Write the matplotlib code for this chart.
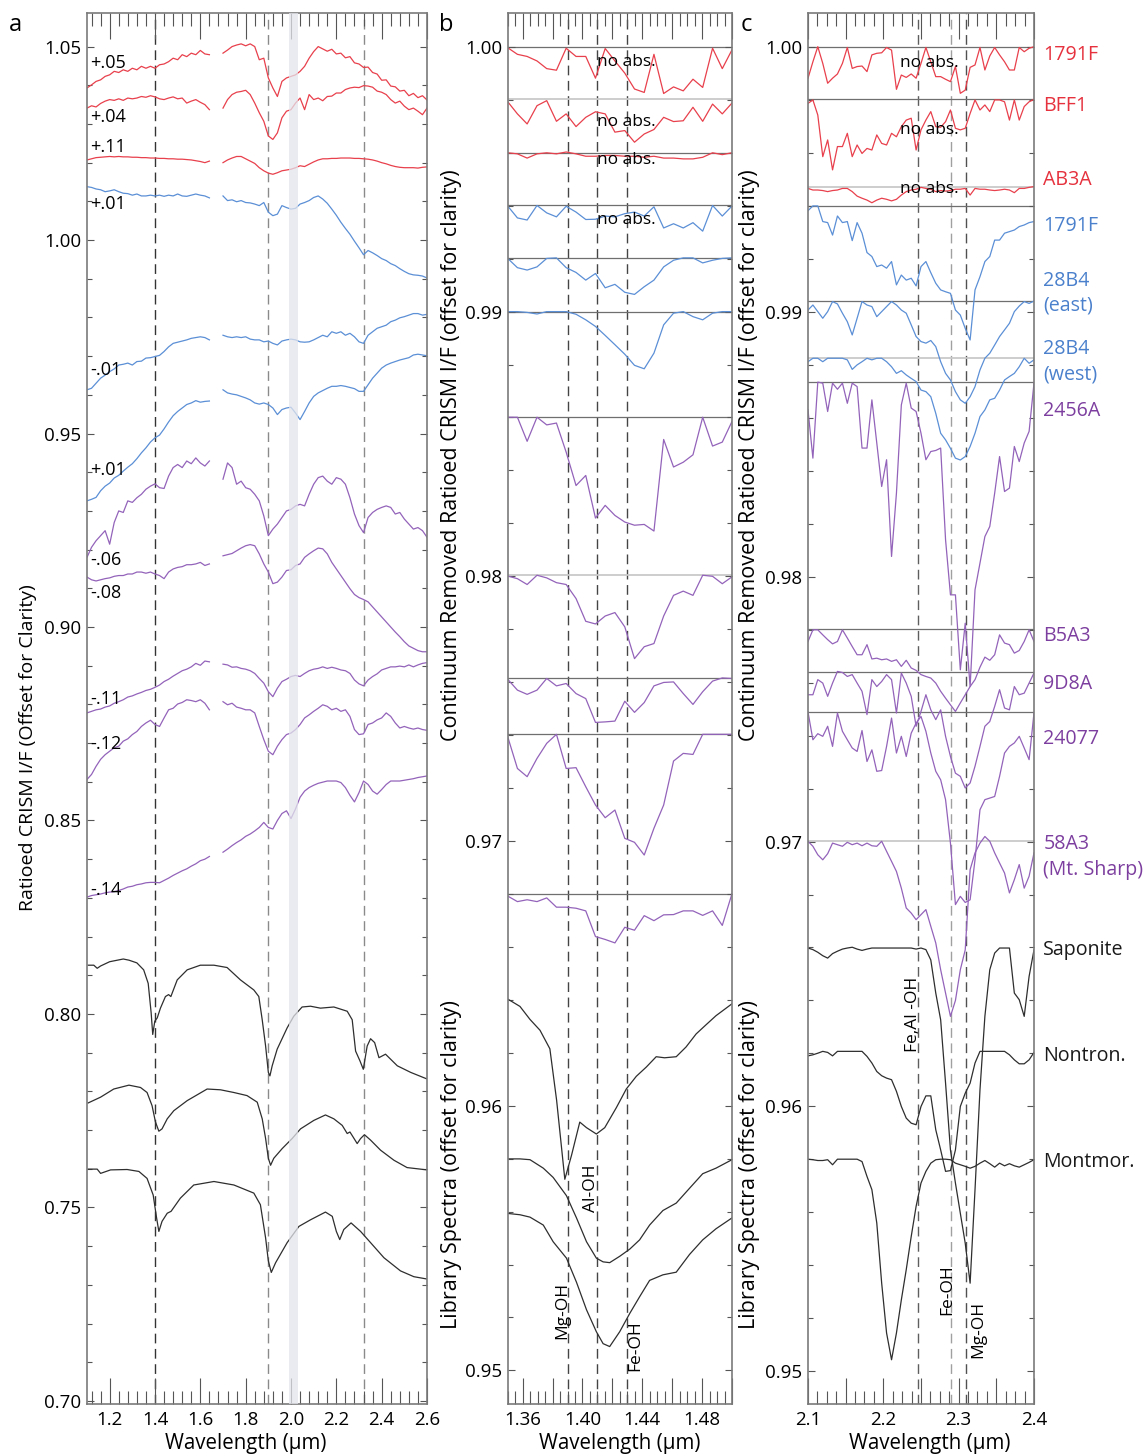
import matplotlib.pyplot as plt
from matplotlib.ticker import MultipleLocator, FuncFormatter

plt.rcParams['font.family'] = ['Open Sans', 'DejaVu Sans']

# ---------------- panel a: ratioed CRISM spectra, 1.1-2.6 um ----------------
# first 28 channels run up to 1.64 um, then a gap up to 1.70 um
wl_a = [1.10, 1.12, 1.14, 1.16, 1.18, 1.20, 1.22, 1.24, 1.26, 1.28,
        1.30, 1.32, 1.34, 1.36, 1.38, 1.40, 1.42, 1.44, 1.46, 1.48,
        1.50, 1.52, 1.54, 1.56, 1.58, 1.60, 1.62, 1.64,
        1.70, 1.72, 1.74, 1.76, 1.78, 1.80, 1.82, 1.84, 1.86, 1.88,
        1.90, 1.92, 1.94, 1.96, 1.98, 2.00, 2.02, 2.04, 2.06, 2.08,
        2.10, 2.12, 2.14, 2.16, 2.18, 2.20, 2.22, 2.24, 2.26, 2.28,
        2.30, 2.32, 2.34, 2.36, 2.38, 2.40, 2.42, 2.44, 2.46, 2.48,
        2.50, 2.52, 2.54, 2.56, 2.58, 2.60]
GAP = 28

a_1791F_r = [1.0393, 1.0401, 1.0410, 1.0414, 1.0423, 1.0427, 1.0436, 1.0433, 1.0440, 1.0436,
             1.0444, 1.0440, 1.0449, 1.0444, 1.0449, 1.0444, 1.0453, 1.0455, 1.0461, 1.0470,
             1.0466, 1.0479, 1.0474, 1.0483, 1.0479, 1.0490, 1.0481, 1.0479,
             1.0483, 1.0491, 1.0500, 1.0504, 1.0507, 1.0502, 1.0507, 1.0500, 1.0466, 1.0470,
             1.0419, 1.0393, 1.0371, 1.0410, 1.0419, 1.0423, 1.0427, 1.0436, 1.0449, 1.0470,
             1.0487, 1.0500, 1.0494, 1.0488, 1.0493, 1.0481, 1.0483, 1.0471, 1.0474, 1.0458,
             1.0455, 1.0446, 1.0447, 1.0433, 1.0429, 1.0413, 1.0414, 1.0398, 1.0396, 1.0385,
             1.0387, 1.0373, 1.0379, 1.0368, 1.0373, 1.0362]
a_BFF1 = [1.0341, 1.0347, 1.0344, 1.0353, 1.0359, 1.0363, 1.0361, 1.0365, 1.0361, 1.0367,
          1.0365, 1.0367, 1.0371, 1.0369, 1.0373, 1.0370, 1.0365, 1.0363, 1.0367, 1.0370,
          1.0365, 1.0367, 1.0354, 1.0359, 1.0363, 1.0356, 1.0350, 1.0337,
          1.0341, 1.0363, 1.0376, 1.0382, 1.0384, 1.0387, 1.0376, 1.0354, 1.0329, 1.0307,
          1.0269, 1.0260, 1.0277, 1.0316, 1.0333, 1.0337, 1.0354, 1.0367, 1.0337, 1.0376,
          1.0363, 1.0367, 1.0360, 1.0371, 1.0372, 1.0380, 1.0380, 1.0389, 1.0393, 1.0395,
          1.0394, 1.0399, 1.0398, 1.0395, 1.0385, 1.0382, 1.0376, 1.0363, 1.0354, 1.0359,
          1.0346, 1.0337, 1.0341, 1.0333, 1.0324, 1.0341]
a_AB3A = [1.0207, 1.0210, 1.0213, 1.0214, 1.0215, 1.0216, 1.0215, 1.0216, 1.0215, 1.0215,
          1.0214, 1.0214, 1.0213, 1.0213, 1.0212, 1.0212, 1.0211, 1.0211, 1.0210, 1.0210,
          1.0209, 1.0209, 1.0208, 1.0207, 1.0205, 1.0203, 1.0200, 1.0204,
          1.0200, 1.0207, 1.0212, 1.0216, 1.0216, 1.0210, 1.0204, 1.0198, 1.0187, 1.0179,
          1.0173, 1.0170, 1.0174, 1.0179, 1.0181, 1.0183, 1.0187, 1.0192, 1.0190, 1.0196,
          1.0202, 1.0207, 1.0210, 1.0210, 1.0211, 1.0211, 1.0212, 1.0212, 1.0212, 1.0211,
          1.0211, 1.0210, 1.0209, 1.0207, 1.0204, 1.0200, 1.0197, 1.0193, 1.0190, 1.0188,
          1.0187, 1.0187, 1.0187, 1.0186, 1.0188, 1.0189]
a_1791F_b = [1.0138, 1.0136, 1.0132, 1.0130, 1.0125, 1.0127, 1.0130, 1.0125, 1.0121, 1.0120,
             1.0116, 1.0119, 1.0114, 1.0114, 1.0116, 1.0114, 1.0116, 1.0113, 1.0116, 1.0114,
             1.0119, 1.0114, 1.0113, 1.0116, 1.0119, 1.0116, 1.0114, 1.0109,
             1.0114, 1.0102, 1.0104, 1.0099, 1.0102, 1.0097, 1.0096, 1.0093, 1.0089, 1.0097,
             1.0072, 1.0063, 1.0067, 1.0089, 1.0084, 1.0080, 1.0082, 1.0093, 1.0097, 1.0102,
             1.0110, 1.0114, 1.0106, 1.0095, 1.0080, 1.0064, 1.0046, 1.0030, 1.0015, 0.9997,
             0.9980, 0.9962, 0.9973, 0.9967, 0.9960, 0.9952, 0.9947, 0.9939, 0.9934, 0.9926,
             0.9919, 0.9913, 0.9910, 0.9909, 0.9907, 0.9902]
a_28B4_east = [0.9613, 0.9617, 0.9630, 0.9643, 0.9651, 0.9660, 0.9667, 0.9677, 0.9679, 0.9682,
               0.9677, 0.9686, 0.9687, 0.9695, 0.9696, 0.9699, 0.9702, 0.9712, 0.9724, 0.9733,
               0.9736, 0.9739, 0.9742, 0.9746, 0.9748, 0.9750, 0.9748, 0.9742,
               0.9754, 0.9750, 0.9748, 0.9750, 0.9748, 0.9750, 0.9744, 0.9742, 0.9742, 0.9737,
               0.9739, 0.9733, 0.9729, 0.9739, 0.9742, 0.9744, 0.9742, 0.9737, 0.9736, 0.9737,
               0.9742, 0.9748, 0.9754, 0.9750, 0.9763, 0.9759, 0.9763, 0.9754, 0.9759, 0.9750,
               0.9737, 0.9733, 0.9754, 0.9763, 0.9772, 0.9776, 0.9780, 0.9789, 0.9793, 0.9799,
               0.9802, 0.9806, 0.9810, 0.9810, 0.9806, 0.9808]
a_28B4_west = [0.9326, 0.9330, 0.9335, 0.9352, 0.9364, 0.9372, 0.9385, 0.9392, 0.9403, 0.9413,
               0.9422, 0.9435, 0.9450, 0.9463, 0.9478, 0.9489, 0.9496, 0.9512, 0.9530, 0.9546,
               0.9557, 0.9566, 0.9575, 0.9579, 0.9585, 0.9581, 0.9583, 0.9584,
               0.9613, 0.9605, 0.9602, 0.9600, 0.9596, 0.9592, 0.9587, 0.9579, 0.9576, 0.9579,
               0.9575, 0.9566, 0.9549, 0.9562, 0.9566, 0.9568, 0.9553, 0.9536, 0.9557, 0.9579,
               0.9596, 0.9605, 0.9611, 0.9617, 0.9622, 0.9622, 0.9624, 0.9622, 0.9619, 0.9616,
               0.9609, 0.9609, 0.9626, 0.9643, 0.9656, 0.9669, 0.9677, 0.9682, 0.9686, 0.9690,
               0.9693, 0.9696, 0.9703, 0.9705, 0.9703, 0.9701]
a_2456A = [0.9180, 0.9206, 0.9223, 0.9236, 0.9249, 0.9214, 0.9270, 0.9300, 0.9296, 0.9326,
           0.9322, 0.9334, 0.9343, 0.9356, 0.9364, 0.9370, 0.9360, 0.9358, 0.9390, 0.9412,
           0.9420, 0.9412, 0.9429, 0.9422, 0.9437, 0.9424, 0.9416, 0.9429,
           0.9382, 0.9424, 0.9412, 0.9369, 0.9377, 0.9360, 0.9356, 0.9343, 0.9326, 0.9287,
           0.9236, 0.9253, 0.9266, 0.9283, 0.9300, 0.9304, 0.9313, 0.9317, 0.9313, 0.9343,
           0.9369, 0.9386, 0.9390, 0.9377, 0.9369, 0.9386, 0.9382, 0.9369, 0.9334, 0.9292,
           0.9262, 0.9244, 0.9283, 0.9296, 0.9304, 0.9309, 0.9313, 0.9309, 0.9292, 0.9296,
           0.9279, 0.9266, 0.9253, 0.9257, 0.9249, 0.9232]
a_B5A3 = [0.9129, 0.9122, 0.9119, 0.9122, 0.9125, 0.9127, 0.9131, 0.9133, 0.9133, 0.9137,
          0.9137, 0.9142, 0.9142, 0.9139, 0.9142, 0.9137, 0.9133, 0.9125, 0.9142, 0.9150,
          0.9154, 0.9156, 0.9161, 0.9161, 0.9163, 0.9167, 0.9159, 0.9163,
          0.9184, 0.9187, 0.9190, 0.9197, 0.9204, 0.9210, 0.9213, 0.9210, 0.9189, 0.9163,
          0.9142, 0.9112, 0.9116, 0.9129, 0.9146, 0.9148, 0.9159, 0.9163, 0.9180, 0.9189,
          0.9197, 0.9204, 0.9202, 0.9189, 0.9167, 0.9150, 0.9133, 0.9116, 0.9099, 0.9084,
          0.9076, 0.9071, 0.9065, 0.9052, 0.9039, 0.9026, 0.9013, 0.9000, 0.8987, 0.8975,
          0.8962, 0.8951, 0.8945, 0.8939, 0.8936, 0.8936]
a_9D8A = [0.8778, 0.8782, 0.8786, 0.8788, 0.8793, 0.8796, 0.8803, 0.8807, 0.8812, 0.8819,
          0.8822, 0.8827, 0.8831, 0.8836, 0.8839, 0.8844, 0.8850, 0.8859, 0.8865, 0.8873,
          0.8880, 0.8887, 0.8891, 0.8897, 0.8906, 0.8901, 0.8912, 0.8910,
          0.8904, 0.8902, 0.8896, 0.8897, 0.8893, 0.8891, 0.8887, 0.8880, 0.8867, 0.8855,
          0.8833, 0.8820, 0.8842, 0.8859, 0.8865, 0.8872, 0.8875, 0.8872, 0.8880, 0.8887,
          0.8891, 0.8893, 0.8897, 0.8893, 0.8896, 0.8893, 0.8889, 0.8887, 0.8880, 0.8863,
          0.8853, 0.8848, 0.8863, 0.8872, 0.8879, 0.8889, 0.8893, 0.8897, 0.8897, 0.8899,
          0.8897, 0.8902, 0.8897, 0.8902, 0.8906, 0.8908]
a_24077 = [0.8606, 0.8619, 0.8640, 0.8658, 0.8670, 0.8679, 0.8688, 0.8692, 0.8705, 0.8711,
           0.8722, 0.8730, 0.8743, 0.8752, 0.8759, 0.8748, 0.8743, 0.8765, 0.8786, 0.8790,
           0.8801, 0.8805, 0.8812, 0.8810, 0.8807, 0.8812, 0.8803, 0.8786,
           0.8807, 0.8799, 0.8803, 0.8793, 0.8790, 0.8786, 0.8786, 0.8778, 0.8743, 0.8709,
           0.8679, 0.8670, 0.8692, 0.8709, 0.8722, 0.8726, 0.8735, 0.8748, 0.8765, 0.8773,
           0.8782, 0.8790, 0.8799, 0.8795, 0.8786, 0.8790, 0.8782, 0.8786, 0.8769, 0.8735,
           0.8722, 0.8724, 0.8748, 0.8752, 0.8760, 0.8765, 0.8778, 0.8769, 0.8752, 0.8739,
           0.8743, 0.8739, 0.8736, 0.8739, 0.8735, 0.8733]
a_58A3 = [0.8302, 0.8306, 0.8308, 0.8310, 0.8313, 0.8315, 0.8316, 0.8319, 0.8323, 0.8328,
          0.8330, 0.8334, 0.8336, 0.8339, 0.8340, 0.8340, 0.8339, 0.8345, 0.8351, 0.8358,
          0.8364, 0.8370, 0.8375, 0.8382, 0.8388, 0.8396, 0.8400, 0.8407,
          0.8418, 0.8426, 0.8435, 0.8443, 0.8450, 0.8459, 0.8465, 0.8473, 0.8482, 0.8495,
          0.8482, 0.8478, 0.8500, 0.8518, 0.8525, 0.8505, 0.8530, 0.8560, 0.8576, 0.8585,
          0.8591, 0.8596, 0.8599, 0.8602, 0.8602, 0.8602, 0.8598, 0.8585, 0.8565, 0.8548,
          0.8572, 0.8602, 0.8593, 0.8576, 0.8568, 0.8580, 0.8593, 0.8602, 0.8602, 0.8602,
          0.8604, 0.8606, 0.8608, 0.8611, 0.8613, 0.8615]

# library spectra for panel a
wl_sap_a = [1.105, 1.13, 1.145, 1.16, 1.20, 1.26, 1.285, 1.32, 1.35, 1.37, 1.383, 1.39,
            1.399, 1.41, 1.424, 1.446, 1.46, 1.47, 1.498, 1.542, 1.60, 1.66, 1.718,
            1.777, 1.836, 1.858, 1.873, 1.888, 1.90, 1.907, 1.917, 1.939, 1.983, 2.012,
            2.049, 2.086, 2.13, 2.189, 2.248, 2.27, 2.285, 2.304, 2.319, 2.336, 2.351,
            2.369, 2.388, 2.417, 2.469, 2.528, 2.60]
sap_a = [0.8126, 0.8126, 0.8118, 0.8124, 0.8135, 0.8142, 0.8139, 0.8132, 0.8114, 0.8079,
         0.8003, 0.7947, 0.7981, 0.7990, 0.8015, 0.8045, 0.8050, 0.8045, 0.8088, 0.8114,
         0.8126, 0.8126, 0.8120, 0.8088, 0.8062, 0.8045, 0.7985, 0.7917, 0.7849, 0.7840,
         0.7866, 0.7909, 0.7964, 0.7994, 0.8018, 0.8020, 0.8015, 0.8018, 0.8007, 0.7985,
         0.7904, 0.7879, 0.7857, 0.7917, 0.7936, 0.7926, 0.7887, 0.7896, 0.7866, 0.7849,
         0.7832]
wl_non_a = [1.105, 1.16, 1.218, 1.285, 1.336, 1.365, 1.387, 1.402, 1.417, 1.431, 1.454,
            1.483, 1.542, 1.63, 1.689, 1.748, 1.806, 1.851, 1.873, 1.888, 1.90, 1.91,
            1.924, 1.961, 2.005, 2.042, 2.101, 2.152, 2.189, 2.226, 2.248, 2.26, 2.274,
            2.292, 2.307, 2.324, 2.351, 2.395, 2.454, 2.512, 2.60]
non_a = [0.7770, 0.7785, 0.7806, 0.7816, 0.7810, 0.7797, 0.7763, 0.7721, 0.7697, 0.7703,
         0.7729, 0.7750, 0.7776, 0.7806, 0.7804, 0.7797, 0.7789, 0.7772, 0.7729, 0.7678,
         0.7627, 0.7609, 0.7627, 0.7652, 0.7678, 0.7703, 0.7725, 0.7739, 0.7729, 0.7712,
         0.7691, 0.7695, 0.7682, 0.7665, 0.7678, 0.7688, 0.7674, 0.7648, 0.7622, 0.7603,
         0.7597]
wl_mon_a = [1.105, 1.145, 1.16, 1.204, 1.277, 1.329, 1.365, 1.392, 1.407, 1.417, 1.431,
            1.454, 1.471, 1.512, 1.571, 1.66, 1.748, 1.836, 1.865, 1.888, 1.90, 1.913,
            1.932, 1.983, 2.035, 2.086, 2.152, 2.182, 2.20, 2.215, 2.233, 2.265, 2.307,
            2.351, 2.41, 2.483, 2.542, 2.60]
mon_a = [0.7599, 0.7599, 0.7588, 0.7597, 0.7598, 0.7593, 0.7575, 0.7532, 0.7473, 0.7438,
         0.7464, 0.7485, 0.7490, 0.7524, 0.7558, 0.7567, 0.7558, 0.7537, 0.7507, 0.7421,
         0.7362, 0.7332, 0.7357, 0.7409, 0.7451, 0.7468, 0.7488, 0.7477, 0.7438, 0.7417,
         0.7443, 0.7460, 0.7438, 0.7409, 0.7370, 0.7336, 0.7321, 0.7315]

# ---------------- panel b: continuum removed, 1.35-1.50 um ----------------
wl_b = [1.3500, 1.3565, 1.3630, 1.3696, 1.3761, 1.3826, 1.3891, 1.3957, 1.4022, 1.4087,
        1.4152, 1.4217, 1.4283, 1.4348, 1.4413, 1.4478, 1.4543, 1.4609, 1.4674, 1.4739,
        1.4804, 1.4870, 1.4935, 1.5000]
b_1791F_r = [0.99997, 0.99972, 0.99964, 0.99947, 0.99918, 0.99912, 0.99995, 0.99964, 0.99964, 0.99882,
             0.99994, 0.99947, 0.99901, 0.99841, 0.99828, 0.99972, 0.99824, 0.99849, 0.99834, 0.99878,
             0.99847, 0.99995, 0.99918, 0.99989]
b_BFF1 = [0.99793, 0.99747, 0.99709, 0.99778, 0.99797, 0.99719, 0.99747, 0.99699, 0.99734, 0.99755,
          0.99747, 0.99678, 0.99684, 0.99640, 0.99671, 0.99688, 0.99734, 0.99718, 0.99721, 0.99772,
          0.99719, 0.99784, 0.99747, 0.99788]
b_AB3A = [0.99600, 0.99596, 0.99580, 0.99596, 0.99600, 0.99596, 0.99603, 0.99596, 0.99587, 0.99587,
          0.99590, 0.99590, 0.99587, 0.99587, 0.99583, 0.99587, 0.99580, 0.99580, 0.99577, 0.99577,
          0.99583, 0.99600, 0.99593, 0.99600]
b_1791F_b = [0.99399, 0.99354, 0.99346, 0.99401, 0.99373, 0.99358, 0.99398, 0.99376, 0.99348, 0.99349,
             0.99361, 0.99358, 0.99370, 0.99376, 0.99361, 0.99396, 0.99316, 0.99332, 0.99316, 0.99336,
             0.99304, 0.99401, 0.99361, 0.99399]
b_28B4_east = [0.99201, 0.99166, 0.99157, 0.99169, 0.99201, 0.99203, 0.99166, 0.99148, 0.99119, 0.99144,
               0.99090, 0.99103, 0.99073, 0.99065, 0.99094, 0.99119, 0.99169, 0.99194, 0.99203, 0.99203,
               0.99184, 0.99194, 0.99201, 0.99203]
b_28B4_west = [0.99000, 0.99000, 0.98997, 0.98991, 0.99000, 0.99000, 0.99000, 0.98990, 0.98969, 0.98944,
               0.98910, 0.98875, 0.98839, 0.98797, 0.98784, 0.98843, 0.98950, 0.98994, 0.99000, 0.98981,
               0.98969, 0.98994, 0.99000, 0.99000]
b_2456A = [0.98601, 0.98601, 0.98510, 0.98601, 0.98572, 0.98579, 0.98469, 0.98343, 0.98381, 0.98220,
           0.98268, 0.98230, 0.98205, 0.98193, 0.98196, 0.98171, 0.98517, 0.98413, 0.98431, 0.98459,
           0.98601, 0.98492, 0.98507, 0.98585]
b_B5A3 = [0.98001, 0.97991, 0.97969, 0.98004, 0.97994, 0.97976, 0.97969, 0.97916, 0.97830, 0.97820,
          0.97850, 0.97863, 0.97809, 0.97689, 0.97734, 0.97746, 0.97850, 0.97928, 0.97944, 0.97928,
          0.98004, 0.98000, 0.97972, 0.97998]
b_9D8A = [0.97611, 0.97570, 0.97554, 0.97570, 0.97614, 0.97586, 0.97595, 0.97557, 0.97538, 0.97448,
          0.97450, 0.97453, 0.97528, 0.97486, 0.97523, 0.97586, 0.97599, 0.97601, 0.97557, 0.97516,
          0.97564, 0.97604, 0.97616, 0.97614]
b_24077 = [0.97394, 0.97274, 0.97243, 0.97312, 0.97369, 0.97403, 0.97274, 0.97277, 0.97205, 0.97136,
           0.97088, 0.97117, 0.97010, 0.96995, 0.96947, 0.97048, 0.97136, 0.97302, 0.97331, 0.97327,
           0.97403, 0.97403, 0.97403, 0.97403]
b_58A3 = [0.96792, 0.96771, 0.96778, 0.96771, 0.96785, 0.96750, 0.96750, 0.96746, 0.96736, 0.96639,
          0.96628, 0.96615, 0.96674, 0.96663, 0.96718, 0.96699, 0.96721, 0.96722, 0.96736, 0.96736,
          0.96719, 0.96736, 0.96681, 0.96801]
b_levels = [1.00000, 0.99803, 0.99600, 0.99401, 0.99203, 0.99000, 0.98601, 0.98004, 0.97616,
            0.97403, 0.96801]
b_level_light = [False, True, False, False, False, False, False, True, False, False, False]

wl_sap_b = [1.3500, 1.3582, 1.3649, 1.3716, 1.3782, 1.3827, 1.3882, 1.3927, 1.3982, 1.4027,
            1.4093, 1.4149, 1.4227, 1.4293, 1.4360, 1.4427, 1.4493, 1.4549, 1.4627, 1.4693,
            1.4760, 1.4827, 1.4893, 1.5000]
sap_b = [0.96403, 0.96375, 0.96326, 0.96285, 0.96215, 0.96021, 0.95722, 0.95813, 0.95938, 0.95917,
         0.95893, 0.95917, 0.95993, 0.96063, 0.96111, 0.96146, 0.96185, 0.96181, 0.96185, 0.96222,
         0.96271, 0.96306, 0.96340, 0.96385]
wl_clay_b = [1.3500, 1.3582, 1.3649, 1.3738, 1.3804, 1.3893, 1.3960, 1.4027, 1.4093, 1.4138,
             1.4182, 1.4249, 1.4316, 1.4382, 1.4449, 1.4538, 1.4627, 1.4716, 1.4804, 1.4893,
             1.5000]
non_b = [0.95799, 0.95799, 0.95796, 0.95764, 0.95729, 0.95660, 0.95576, 0.95486, 0.95424, 0.95410,
         0.95407, 0.95431, 0.95458, 0.95493, 0.95549, 0.95604, 0.95632, 0.95688, 0.95743, 0.95764,
         0.95796]
mon_b = [0.95593, 0.95588, 0.95579, 0.95549, 0.95486, 0.95424, 0.95333, 0.95229, 0.95146, 0.95101,
         0.95090, 0.95146, 0.95215, 0.95278, 0.95340, 0.95361, 0.95371, 0.95438, 0.95493, 0.95535,
         0.95576]

# ---------------- panel c: continuum removed, 2.1-2.4 um ----------------
wl_c = [2.1000, 2.1065, 2.1130, 2.1196, 2.1261, 2.1326, 2.1391, 2.1457, 2.1522, 2.1587,
        2.1652, 2.1717, 2.1783, 2.1848, 2.1913, 2.1978, 2.2043, 2.2109, 2.2174, 2.2239,
        2.2304, 2.2370, 2.2435, 2.2500, 2.2565, 2.2630, 2.2696, 2.2761, 2.2826, 2.2891,
        2.2957, 2.3022, 2.3087, 2.3152, 2.3217, 2.3283, 2.3348, 2.3413, 2.3478, 2.3543,
        2.3609, 2.3674, 2.3739, 2.3804, 2.3870, 2.3935, 2.4000]
c_1791F_r = [0.99881, 0.99943, 1.00000, 0.99937, 0.99862, 0.99881, 0.99897, 0.99937, 0.99997, 0.99918,
             0.99925, 0.99927, 0.99906, 0.99969, 0.99975, 0.99977, 0.99997, 0.99987, 0.99839, 0.99893,
             0.99884, 0.99897, 0.99881, 0.99937, 0.99997, 0.99943, 0.99887, 0.99887, 0.99877, 0.99868,
             0.99925, 0.99824, 0.99836, 0.99922, 0.99931, 0.99997, 0.99912, 0.99965, 0.99997, 0.99969,
             0.99943, 0.99912, 0.99912, 0.99997, 0.99981, 0.99994, 1.00000]
c_BFF1 = [0.99786, 0.99799, 0.99742, 0.99585, 0.99648, 0.99535, 0.99623, 0.99623, 0.99673, 0.99585,
          0.99629, 0.99597, 0.99616, 0.99610, 0.99667, 0.99635, 0.99629, 0.99673, 0.99660, 0.99698,
          0.99723, 0.99730, 0.99610, 0.99686, 0.99723, 0.99755, 0.99698, 0.99696, 0.99717, 0.99761,
          0.99692, 0.99686, 0.99692, 0.99748, 0.99799, 0.99761, 0.99780, 0.99755, 0.99799, 0.99799,
          0.99792, 0.99723, 0.99799, 0.99723, 0.99774, 0.99792, 0.99801]
c_AB3A = [0.99465, 0.99459, 0.99459, 0.99457, 0.99453, 0.99457, 0.99459, 0.99465, 0.99465, 0.99453,
          0.99436, 0.99428, 0.99421, 0.99411, 0.99421, 0.99428, 0.99424, 0.99418, 0.99424, 0.99440,
          0.99453, 0.99459, 0.99462, 0.99469, 0.99465, 0.99462, 0.99453, 0.99457, 0.99455, 0.99457,
          0.99462, 0.99462, 0.99465, 0.99440, 0.99465, 0.99462, 0.99462, 0.99459, 0.99457, 0.99459,
          0.99462, 0.99459, 0.99449, 0.99465, 0.99465, 0.99469, 0.99472]
c_1791F_b = [0.99381, 0.99399, 0.99399, 0.99340, 0.99336, 0.99289, 0.99361, 0.99336, 0.99340, 0.99268,
             0.99336, 0.99296, 0.99223, 0.99208, 0.99170, 0.99176, 0.99164, 0.99189, 0.99101, 0.99138,
             0.99119, 0.99126, 0.99097, 0.99170, 0.99189, 0.99147, 0.99107, 0.99082, 0.99075, 0.99069,
             0.99006, 0.98987, 0.98937, 0.98893, 0.99082, 0.99132, 0.99189, 0.99208, 0.99270, 0.99270,
             0.99296, 0.99302, 0.99308, 0.99321, 0.99327, 0.99336, 0.99340]
c_28B4_east = [0.99006, 0.99025, 0.99000, 0.98975, 0.99000, 0.99038, 0.99029, 0.98994, 0.98962, 0.98912,
               0.98975, 0.99038, 0.99025, 0.99019, 0.98981, 0.99000, 0.99019, 0.99038, 0.99025, 0.99006,
               0.98994, 0.98950, 0.98906, 0.98887, 0.98881, 0.98891, 0.98868, 0.98811, 0.98767, 0.98742,
               0.98698, 0.98667, 0.98654, 0.98679, 0.98717, 0.98780, 0.98824, 0.98843, 0.98874, 0.98906,
               0.98931, 0.98956, 0.99000, 0.99021, 0.99038, 0.99031, 0.99040]
c_28B4_west = [0.98811, 0.98824, 0.98824, 0.98811, 0.98824, 0.98824, 0.98824, 0.98824, 0.98818, 0.98782,
               0.98799, 0.98811, 0.98824, 0.98818, 0.98824, 0.98824, 0.98811, 0.98792, 0.98767, 0.98777,
               0.98761, 0.98748, 0.98736, 0.98704, 0.98698, 0.98679, 0.98616, 0.98541, 0.98516, 0.98484,
               0.98447, 0.98440, 0.98453, 0.98491, 0.98541, 0.98604, 0.98629, 0.98667, 0.98673, 0.98704,
               0.98742, 0.98755, 0.98767, 0.98792, 0.98824, 0.98805, 0.98818]
c_2456A = [0.98629, 0.98447, 0.98734, 0.98730, 0.98623, 0.98730, 0.98707, 0.98730, 0.98654, 0.98730,
           0.98717, 0.98485, 0.98485, 0.98667, 0.98504, 0.98340, 0.98441, 0.98076, 0.98315, 0.98648,
           0.98730, 0.98636, 0.98623, 0.98541, 0.98441, 0.98472, 0.98476, 0.98485, 0.98139, 0.97931,
           0.97931, 0.97648, 0.97824, 0.97585, 0.97950, 0.98051, 0.98151, 0.98189, 0.98315, 0.98453,
           0.98321, 0.98334, 0.98491, 0.98434, 0.98504, 0.98548, 0.98730]
c_B5A3 = [0.97755, 0.97799, 0.97799, 0.97780, 0.97762, 0.97746, 0.97755, 0.97799, 0.97768, 0.97736,
          0.97705, 0.97705, 0.97743, 0.97689, 0.97692, 0.97686, 0.97689, 0.97680, 0.97686, 0.97661,
          0.97684, 0.97655, 0.97646, 0.97630, 0.97623, 0.97617, 0.97598, 0.97567, 0.97541, 0.97516,
          0.97491, 0.97523, 0.97554, 0.97585, 0.97611, 0.97658, 0.97696, 0.97684, 0.97705, 0.97780,
          0.97749, 0.97743, 0.97711, 0.97721, 0.97755, 0.97799, 0.97755]
c_9D8A = [0.97554, 0.97554, 0.97611, 0.97598, 0.97548, 0.97598, 0.97642, 0.97638, 0.97623, 0.97630,
          0.97598, 0.97567, 0.97479, 0.97611, 0.97585, 0.97604, 0.97630, 0.97611, 0.97485, 0.97636,
          0.97598, 0.97548, 0.97435, 0.97491, 0.97554, 0.97497, 0.97460, 0.97497, 0.97397, 0.97321,
          0.97258, 0.97246, 0.97202, 0.97221, 0.97284, 0.97359, 0.97435, 0.97453, 0.97510, 0.97573,
          0.97504, 0.97497, 0.97585, 0.97554, 0.97560, 0.97598, 0.97636]
c_24077 = [0.97489, 0.97384, 0.97407, 0.97397, 0.97435, 0.97359, 0.97485, 0.97416, 0.97384, 0.97353,
           0.97340, 0.97419, 0.97302, 0.97346, 0.97265, 0.97268, 0.97359, 0.97466, 0.97334, 0.97397,
           0.97321, 0.97409, 0.97447, 0.97472, 0.97416, 0.97334, 0.97265, 0.97233, 0.97158, 0.96994,
           0.96762, 0.96793, 0.96770, 0.96780, 0.96931, 0.97120, 0.97158, 0.97164, 0.97170, 0.97246,
           0.97334, 0.97359, 0.97372, 0.97397, 0.97353, 0.97309, 0.97485]
c_58A3 = [0.97001, 0.96982, 0.96950, 0.96931, 0.96954, 0.96994, 0.96988, 0.96982, 0.96997, 0.96988,
          0.96994, 0.96984, 0.96994, 0.96984, 0.96982, 0.97001, 0.96963, 0.96925, 0.96887, 0.96824,
          0.96749, 0.96730, 0.96705, 0.96724, 0.96743, 0.96680, 0.96617, 0.96516, 0.96428, 0.96340,
          0.96400, 0.96516, 0.96591, 0.96894, 0.96957, 0.96994, 0.97019, 0.97001, 0.96957, 0.96919,
          0.96881, 0.96806, 0.96856, 0.96913, 0.96824, 0.96869, 0.96957]
c_levels = [1.00000, 0.99801, 0.99472, 0.99399, 0.99040, 0.98824, 0.98733, 0.97802, 0.97640,
            0.97489, 0.97001]
c_level_light = [False, False, True, False, False, True, False, False, False, False, True]

sap_c = [0.96598, 0.96592, 0.96582, 0.96569, 0.96560, 0.96577, 0.96586, 0.96594, 0.96598, 0.96601,
         0.96594, 0.96589, 0.96594, 0.96598, 0.96598, 0.96598, 0.96598, 0.96598, 0.96598, 0.96598,
         0.96598, 0.96598, 0.96594, 0.96598, 0.96592, 0.96553, 0.96428, 0.96327, 0.96088, 0.95836,
         0.95711, 0.95597, 0.95484, 0.95333, 0.95686, 0.96063, 0.96340, 0.96516, 0.96579, 0.96598,
         0.96598, 0.96598, 0.96428, 0.96403, 0.96340, 0.96491, 0.96591]
non_c = [0.96191, 0.96195, 0.96201, 0.96208, 0.96204, 0.96191, 0.96208, 0.96208, 0.96208, 0.96208,
         0.96208, 0.96208, 0.96189, 0.96164, 0.96132, 0.96116, 0.96107, 0.96101, 0.96057, 0.96000,
         0.95956, 0.95937, 0.95931, 0.96000, 0.96040, 0.96040, 0.95912, 0.95836, 0.95755, 0.95758,
         0.95836, 0.96000, 0.96050, 0.96088, 0.96164, 0.96208, 0.96208, 0.96208, 0.96208, 0.96208,
         0.96208, 0.96195, 0.96176, 0.96161, 0.96161, 0.96176, 0.96204]
mon_c = [0.95801, 0.95799, 0.95796, 0.95796, 0.95799, 0.95780, 0.95801, 0.95801, 0.95801, 0.95801,
         0.95801, 0.95792, 0.95736, 0.95686, 0.95560, 0.95333, 0.95145, 0.95044, 0.95145, 0.95270,
         0.95384, 0.95509, 0.95623, 0.95711, 0.95755, 0.95786, 0.95799, 0.95801, 0.95801, 0.95799,
         0.95786, 0.95780, 0.95774, 0.95767, 0.95774, 0.95786, 0.95796, 0.95784, 0.95771, 0.95786,
         0.95776, 0.95784, 0.95776, 0.95771, 0.95780, 0.95789, 0.95799]

site_names = ['1791F', 'BFF1', 'AB3A', '1791F', '28B4\n(east)', '28B4\n(west)', '2456A',
              'B5A3', '9D8A', '24077', '58A3\n(Mt. Sharp)']
library_names = ['Saponite', 'Nontron.', 'Montmor.']
a_offsets = ['+.05', '+.04', '+.11', '+.01', '-.01', '+.01', '-.06', '-.08', '-.11', '-.12', '-.14']

RED = '#e8404c'
BLUE = '#5b8fd6'
PURPLE = '#9363ba'
LIB = '#2e2e2e'
RED_T = '#e5323e'
BLUE_T = '#4a80cc'
PURPLE_T = '#7d3f9f'
site_colors = [RED] * 3 + [BLUE] * 3 + [PURPLE] * 5
site_text_colors = [RED_T] * 3 + [BLUE_T] * 3 + [PURPLE_T] * 5

FS_TICK = 13.5
FS_NOTE = 12.5


def style_axes(ax, xmaj, xmin, ymaj, ymin):
    ax.xaxis.set_major_locator(MultipleLocator(xmaj))
    ax.xaxis.set_minor_locator(MultipleLocator(xmin))
    ax.yaxis.set_major_locator(MultipleLocator(ymaj))
    ax.yaxis.set_minor_locator(MultipleLocator(ymin))
    ax.tick_params(axis='x', which='major', direction='in', length=19, width=0.8,
                   color='#555555', top=True, bottom=True, labelsize=FS_TICK, pad=5)
    ax.tick_params(axis='x', which='minor', direction='in', length=9.5, width=0.8,
                   color='#555555', top=True, bottom=True)
    ax.tick_params(axis='y', which='major', direction='in', length=5, width=0.8,
                   color='#555555', left=True, right=True, labelsize=FS_TICK, pad=4)
    ax.tick_params(axis='y', which='minor', direction='in', length=3.5, width=0.8,
                   color='#555555', left=True, right=True)
    for sp in ax.spines.values():
        sp.set_color('#7a7a7a')
        sp.set_linewidth(1.2)
    ax.yaxis.set_major_formatter(FuncFormatter(lambda v, p: f'{v:.2f}'))


def dashed(ax, x, color):
    ax.axvline(x, color=color, lw=1.0, linestyle=(0, (7, 4)), zorder=1)


fig = plt.figure(figsize=(11.46, 14.56), dpi=100)
W, H = 1146.0, 1456.0

# panel a
ax_a = fig.add_axes([87 / W, 1 - 1404 / H, 340 / W, 1390.7 / H])
style_axes(ax_a, 0.2, 0.04, 0.05, 0.01)
ax_a.xaxis.set_major_formatter(FuncFormatter(lambda v, p: f'{v:.1f}'))
ax_a.set_xlim(1.1, 2.6)
ax_a.set_ylim(0.6992, 1.0586)
dashed(ax_a, 1.40, '#333333')
dashed(ax_a, 1.90, '#8a8a8a')
dashed(ax_a, 2.32, '#8a8a8a')
a_series = [a_1791F_r, a_BFF1, a_AB3A, a_1791F_b, a_28B4_east, a_28B4_west,
            a_2456A, a_B5A3, a_9D8A, a_24077, a_58A3]
for ys, col in zip(a_series, site_colors):
    ax_a.plot(wl_a[:GAP], ys[:GAP], color=col, lw=0.9, zorder=2)
    ax_a.plot(wl_a[GAP:], ys[GAP:], color=col, lw=0.9, zorder=2)
for wl, ys in [(wl_sap_a, sap_a), (wl_non_a, non_a), (wl_mon_a, mon_a)]:
    ax_a.plot(wl, ys, color=LIB, lw=0.9, zorder=2)
ax_a.axvspan(1.99, 2.03, color='#e3e5ec', alpha=0.75, lw=0, zorder=3)
a_label_y = [1.0458, 1.0318, 1.0241, 1.0093, 0.9665, 0.9407, 0.9173, 0.9088, 0.8814,
             0.8698, 0.8321]
for txt, yy in zip(a_offsets, a_label_y):
    ax_a.text(1.115, yy, txt, fontsize=13, ha='left', va='center', zorder=4)

# panel b
ax_b = fig.add_axes([507.7 / W, 1 - 1404 / H, 224.3 / W, 1390.7 / H])
style_axes(ax_b, 0.02, 0.005, 0.01, 0.002)
ax_b.xaxis.set_major_formatter(
    FuncFormatter(lambda v, p: f'{v:.2f}' if round(v * 100) % 4 == 0 else ''))
ax_b.set_xlim(1.35, 1.50)
ax_b.set_ylim(0.94873, 1.00127)
for x in (1.39, 1.41, 1.43):
    dashed(ax_b, x, '#444444')
for lv, light in zip(b_levels, b_level_light):
    ax_b.axhline(lv, color='#c9c9c9' if light else '#6f6f6f',
                 lw=1.3 if light else 0.9, zorder=1)
b_series = [b_1791F_r, b_BFF1, b_AB3A, b_1791F_b, b_28B4_east, b_28B4_west,
            b_2456A, b_B5A3, b_9D8A, b_24077, b_58A3]
for ys, col in zip(b_series, site_colors):
    ax_b.plot(wl_b, ys, color=col, lw=0.9, zorder=2)
for wl, ys in [(wl_sap_b, sap_b), (wl_clay_b, non_b), (wl_clay_b, mon_b)]:
    ax_b.plot(wl, ys, color=LIB, lw=0.9, zorder=2)
for yy in (0.99942, 0.99715, 0.99572, 0.99345):
    ax_b.text(1.4100, yy, 'no abs.', fontsize=FS_NOTE, ha='left', va='center', zorder=4)
ax_b.text(1.3862, 0.95228, 'Mg-OH', rotation=90, fontsize=12.5, ha='center', va='center')
ax_b.text(1.4055, 0.95689, 'Al-OH', rotation=90, fontsize=12.5, ha='center', va='center')
ax_b.text(1.4355, 0.95093, 'Fe-OH', rotation=90, fontsize=12.5, ha='center', va='center')

# panel c
ax_c = fig.add_axes([808 / W, 1 - 1404 / H, 226 / W, 1390.7 / H])
style_axes(ax_c, 0.05, 0.0125, 0.01, 0.002)
ax_c.xaxis.set_major_formatter(
    FuncFormatter(lambda v, p: f'{v:.1f}' if round(v * 100) % 10 == 0 else ''))
ax_c.set_xlim(2.1, 2.4)
ax_c.set_ylim(0.94877, 1.00126)
dashed(ax_c, 2.2456, '#5e5e5e')
dashed(ax_c, 2.2903, '#a0a0a0')
dashed(ax_c, 2.3097, '#505050')
for lv, light in zip(c_levels, c_level_light):
    ax_c.axhline(lv, color='#c9c9c9' if light else '#6f6f6f',
                 lw=1.3 if light else 0.9, zorder=1)
c_series = [c_1791F_r, c_BFF1, c_AB3A, c_1791F_b, c_28B4_east, c_28B4_west,
            c_2456A, c_B5A3, c_9D8A, c_24077, c_58A3]
for ys, col in zip(c_series, site_colors):
    ax_c.plot(wl_c, ys, color=col, lw=0.9, zorder=2)
for ys in (sap_c, non_c, mon_c):
    ax_c.plot(wl_c, ys, color=LIB, lw=0.9, zorder=2)
for yy in (0.99938, 0.99685, 0.99462):
    ax_c.text(2.2215, yy, 'no abs.', fontsize=FS_NOTE, ha='left', va='center', zorder=4)
ax_c.text(2.2396, 0.96348, 'Fe,Al -OH', rotation=90, fontsize=12.5, ha='center', va='center')
ax_c.text(2.2852, 0.95310, 'Fe-OH', rotation=90, fontsize=12.5, ha='center', va='center')
ax_c.text(2.3255, 0.95159, 'Mg-OH', rotation=90, fontsize=12.5, ha='center', va='center')

site_label_y = [0.99969, 0.99776, 0.99497, 0.99323, 0.99069, 0.98812, 0.98625, 0.97776,
                0.97595, 0.97387, 0.96942]
for name, yy, col in zip(site_names, site_label_y, site_text_colors):
    ax_c.text(2.4123, yy, name, color=col, fontsize=14.1, ha='left', va='center',
              linespacing=1.35, clip_on=False)
for name, yy in zip(library_names, (0.96592, 0.96192, 0.95792)):
    ax_c.text(2.4123, yy, name, color='#1a1a1a', fontsize=14.1, ha='left', va='center',
              clip_on=False)

# axis titles and panel letters
fig.text(28 / W, 1 - 748 / H, 'Ratioed CRISM I/F (Offset for Clarity)', rotation=90,
         fontsize=14, ha='center', va='center')
for xp in (452, 750):
    fig.text(xp / W, 1 - 455 / H, 'Continuum Removed Ratioed CRISM I/F (offset for clarity)',
             rotation=90, fontsize=15.5, ha='center', va='center')
    fig.text(xp / W, 1 - 1165 / H, 'Library Spectra (offset for clarity)', rotation=90,
             fontsize=15.5, ha='center', va='center')
for xp in (246, 620, 930):
    fig.text(xp / W, 1 - 1443 / H, 'Wavelength (µm)', fontsize=14.8, ha='center',
             va='center')
for letter, xp in (('a', 15), ('b', 446), ('c', 746)):
    fig.text(xp / W, 1 - 25 / H, letter, fontsize=17, ha='center', va='center')

fig.savefig('out.png', dpi=100)
